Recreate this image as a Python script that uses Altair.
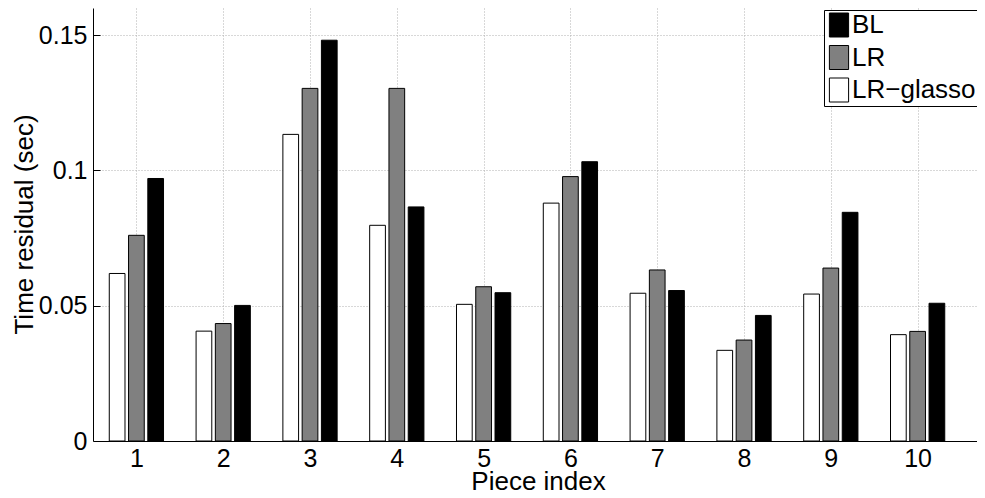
import altair as alt
import pandas as pd

pieces = [1, 2, 3, 4, 5, 6, 7, 8, 9, 10]
series = ["BL", "LR", "LR−glasso"]
bl = [0.0970, 0.0501, 0.1481, 0.0865, 0.0548, 0.1032, 0.0556, 0.0464, 0.0845, 0.0509]
lr = [0.0760, 0.0434, 0.1303, 0.1303, 0.0570, 0.0977, 0.0632, 0.0373, 0.0639, 0.0405]
glasso = [0.0619, 0.0406, 0.1133, 0.0797, 0.0505, 0.0879, 0.0546, 0.0335, 0.0543, 0.0393]
colors = ["#000000", "#808080", "#ffffff"]
y_ticks = [0, 0.05, 0.1, 0.15]

rows = []
for name, vals in zip(series, [bl, lr, glasso]):
    for p, v in zip(pieces, vals):
        rows.append({"piece": p, "series": name, "value": v})
df = pd.DataFrame(rows)

FONT = "Liberation Sans"
W, H = 884, 433

base = alt.Chart(df).transform_calculate(
    slot="1 - indexof(['BL','LR','LR−glasso'], datum.series)"
).transform_calculate(
    x0="datum.piece + datum.slot * 0.222 - 0.0905",
    x1="datum.piece + datum.slot * 0.222 + 0.0905",
)

xscale = alt.Scale(domain=[0.5, 10.684], nice=False, zero=False)
yscale = alt.Scale(domain=[0, 0.16], nice=False)

bars = base.mark_bar(stroke="black", strokeWidth=1).encode(
    x=alt.X(
        "x0:Q",
        scale=xscale,
        axis=alt.Axis(
            orient="bottom",
            values=pieces, format="d", title="Piece index",
            grid=True, gridDash=[1, 2], gridColor="#b0b0b0",
            tickSize=0, domainColor="black", domainWidth=1,
            labelFont=FONT, labelFontSize=25, labelColor="black", labelPadding=5,
            titleFont=FONT, titleFontSize=26, titleFontWeight="normal", titleColor="black",
            titleBaseline="alphabetic", titleX=445, titleY=48,
        ),
    ),
    x2="x1:Q",
    y=alt.Y(
        "value:Q",
        scale=yscale,
        axis=alt.Axis(
            orient="left",
            values=y_ticks, format="~g", title="Time residual (sec)",
            grid=True, gridDash=[1, 2], gridColor="#b0b0b0",
            tickSize=0, domainColor="black", domainWidth=1,
            labelFont=FONT, labelFontSize=25, labelColor="black", labelPadding=6,
            titleFont=FONT, titleFontSize=26, titleFontWeight="normal", titleColor="black",
            titleAngle=270, titleBaseline="alphabetic", titleX=-61, titleY=216,
        ),
    ),
    y2=alt.datum(0),
    color=alt.Color(
        "series:N",
        scale=alt.Scale(domain=series, range=colors),
        legend=alt.Legend(
            title=None, orient="none", legendX=731, legendY=2,
            symbolType="M-0.8,-1H0.8V1H-0.8Z", symbolSize=576,
            symbolStrokeColor="black", symbolStrokeWidth=1, symbolOpacity=1,
            labelFont=FONT, labelFontSize=26, labelColor="black", labelOffset=0,
            labelLimit=300, rowPadding=4.5, padding=2,
            strokeColor="black", fillColor="white",
        ),
    ),
)

ticks = base.mark_bar(opacity=0).encode(
    x=alt.X("x0:Q", scale=xscale, axis=None),
    x2="x1:Q",
    y=alt.Y(
        "value:Q",
        scale=yscale,
        axis=alt.Axis(
            orient="right", offset=-W, values=[0.05, 0.1, 0.15],
            labels=False, domain=False, grid=False, title="",
            tickSize=7, tickColor="black", tickWidth=1,
        ),
    ),
    y2=alt.datum(0),
)

chart = alt.layer(bars, ticks).resolve_axis(x="independent", y="independent").properties(
    width=W, height=H,
    autosize=alt.AutoSizeParams(type="none"),
    padding={"left": 85, "top": 0, "right": 0, "bottom": 49},
    background="white",
).configure_view(stroke=None)

chart.save("out.html", embed_options={"renderer": "svg", "actions": False})
